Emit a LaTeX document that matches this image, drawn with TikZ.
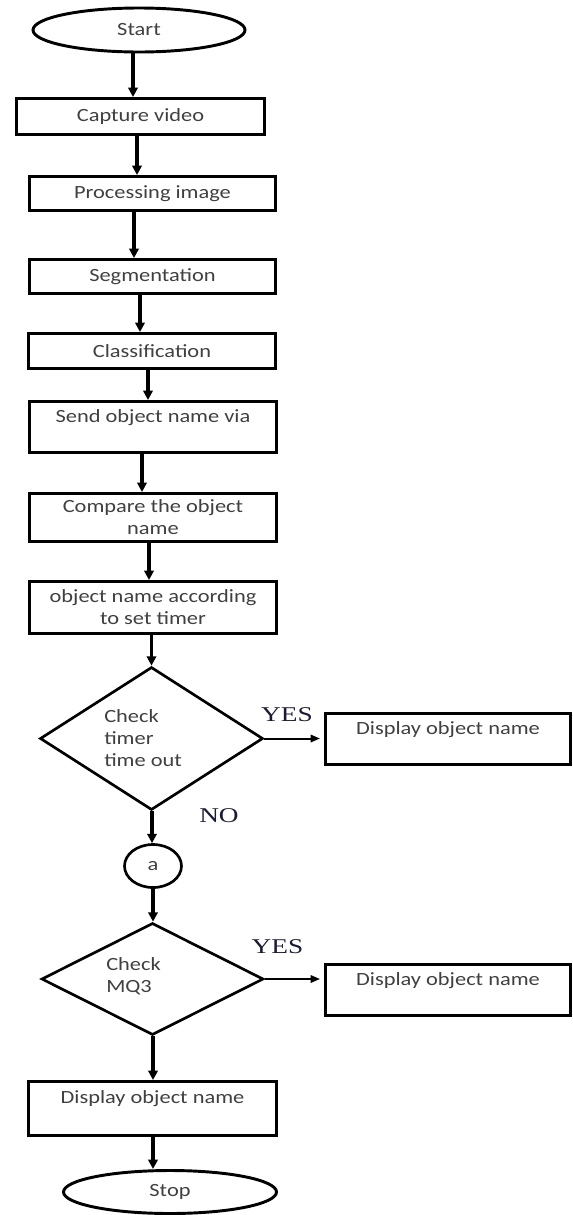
\documentclass[tikz,border=0pt]{standalone}
\usepackage{fontspec}
\newfontfamily\calib[FakeStretch=1.2]{Carlito}
\newfontfamily\tnr[FakeStretch=1.3]{Liberation Serif}
\usetikzlibrary{shapes.geometric,arrows.meta}
\definecolor{txtgrey}{HTML}{404040}
\definecolor{lblink}{HTML}{1A1A33}
\tikzset{
 px/.style 2 args={minimum width=#1*0.75pt, minimum height=#2*0.75pt},
 base/.style={draw=black, inner sep=0pt, text=txtgrey, font=\calib\fontsize{14pt}{16.5pt}\selectfont, align=center},
 procbox/.style={base, rectangle, line width=2.2pt},
 term/.style={base, ellipse, line width=2.2pt},
 decision/.style={base, diamond, line width=2pt},
 connector/.style={base, ellipse, line width=2pt},
 note/.style={text=txtgrey, inner sep=0pt, font=\calib\fontsize{14pt}{16.5pt}\selectfont, align=left, anchor=west},
 yn/.style={text=lblink, inner sep=0pt, font=\tnr\fontsize{15.75pt}{18pt}\selectfont},
 flow/.style={line width=2.6pt, -{Triangle[length=7pt,width=7pt]}},
 side/.style={line width=1.5pt, -{Triangle[length=7pt,width=5.5pt]}, shorten >=3pt},
}
\begin{document}
\begin{tikzpicture}[x=0.75pt,y=-0.75pt]
\useasboundingbox (0,0) rectangle (573,1215);
% nodes
\node[term, px={212}{44}] (start) at (139,30) {Start};
\node[procbox, px={248}{36}] (capture) at (140.5,116.5) {Capture video};
\node[procbox, px={246}{34}] (proc) at (152.5,193.5) {Processing image};
\node[procbox, px={246}{34}] (seg) at (152.5,276.5) {Segmentation};
\node[procbox, px={247}{35}] (class) at (152,351) {Classification};
\node[procbox, px={247}{51}] (send) at (153,427) {Send object name via\\\mbox{}};
\node[procbox, px={247}{48}] (comp) at (153,517.5) {Compare the object\\name};
\node[procbox, px={247}{52}] (objn) at (153,607.5) {object name according\\to set timer};
\node[decision, px={223}{143}] (d1) at (151.5,738.5) {};
\node[note] (d1t) at (104,738) {Check\\timer\\time out};
\node[procbox, px={245}{51}] (disp1) at (448,739) {Display object name\\\mbox{}};
\node[yn] (yes1) at (287,715) {YES};
\node[yn] (no1) at (219,816) {NO};
\node[connector, px={57}{43}] (conn) at (153,866) {a};
\node[decision, px={222}{112}] (d2) at (152.5,979) {};
\node[note] (d2t) at (106,976) {Check\\MQ3};
\node[yn] (yes2) at (277.5,947) {YES};
\node[procbox, px={245}{51}] (disp2) at (448,990) {Display object name\\\mbox{}};
\node[procbox, px={248}{54}] (disp3) at (152.5,1108.5) {Display object name\\\mbox{}};
\node[term, px={213}{43}] (stop) at (170,1192) {Stop};
% arrow columns
\coordinate (ax1) at (133,0);
\coordinate (ax2) at (137,0);
\coordinate (ax3) at (134,0);
\coordinate (ax4) at (140,0);
\coordinate (ax5) at (148,0);
\coordinate (ax6) at (142,0);
\coordinate (ax7) at (149,0);
\coordinate (ax8) at (152,0);
\coordinate (ax9) at (153,0);
% connectors
\draw[flow] (start.south -| ax1) -- (capture.north -| ax1);
\draw[flow] (capture.south -| ax2) -- (proc.north -| ax2);
\draw[flow] (proc.south -| ax3) -- (seg.north -| ax3);
\draw[flow] (seg.south -| ax4) -- (class.north -| ax4);
\draw[flow] (class.south -| ax5) -- (send.north -| ax5);
\draw[flow] (send.south -| ax6) -- (comp.north -| ax6);
\draw[flow] (comp.south -| ax7) -- (objn.north -| ax7);
\draw[flow] (objn.south -| d1.north) -- (d1.north);
\draw[flow] (d1.south -| ax8) -- (conn.north -| ax8);
\draw[flow] (conn.south -| ax9) -- (d2.north -| ax9);
\draw[flow] (d2.south -| ax9) -- (disp3.north -| ax9);
\draw[flow] (disp3.south -| ax9) -- (stop.north -| ax9);
\draw[side] (d1.east) -- (d1.east -| disp1.west);
\draw[side] (d2.east) -- (d2.east -| disp2.west);
\end{tikzpicture}
\end{document}
